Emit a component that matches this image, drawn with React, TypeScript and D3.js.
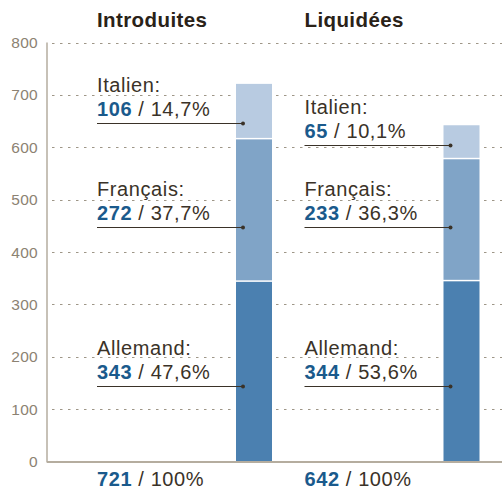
import React from "react";
import * as d3 from "d3";

const panels = ["Introduites", "Liquidées"];
const languages = ["Allemand", "Français", "Italien"];
const countsIntroduites = [343, 272, 106];
const countsLiquidees = [344, 233, 65];
const pctIntroduites = ["47,6%", "37,7%", "14,7%"];
const pctLiquidees = ["53,6%", "36,3%", "10,1%"];
const labelAnchorIntroduites = [145, 447, 647];
const labelAnchorLiquidees = [145, 447, 604];
const totals = [721, 642];
const yTicks = [0, 100, 200, 300, 400, 500, 600, 700, 800];

const W = 502;
const H = 492;
const COLORS = ["#4b80b0", "#80a4c7", "#b8cbe1"];
const BLUE = "#1a5a8c";
const TEXT = "#3a3228";
const AXIS = "#b5ad9f";
const TICK = "#8c8272";
const FONT = "'Liberation Sans', Arial, Helvetica, sans-serif";

export default function App() {
  const y = d3.scaleLinear().domain([0, 800]).range([461.5, 42.5]);
  const x = d3.scaleBand().domain(panels).range([48, 48 + 2 * 207.5]);
  const axisX = 47;
  const barOffset = 188;
  const labelOffset = 49;
  const barW = 36;

  const series = [
    { counts: countsIntroduites, pcts: pctIntroduites, anchors: labelAnchorIntroduites },
    { counts: countsLiquidees, pcts: pctLiquidees, anchors: labelAnchorLiquidees },
  ];
  const stacks = series.map((s) => {
    let acc = 0;
    return s.counts.map((c) => {
      const y0 = acc;
      acc += c;
      return [y0, acc];
    });
  });

  return (
    <svg
      width={W}
      height={H}
      style={{ position: "absolute", left: 0, top: 0, background: "#fff" }}
      fontFamily={FONT}
    >
      {yTicks.slice(1).map((t) => (
        <line
          key={t}
          x1={axisX + 5}
          x2={W}
          y1={Math.round(y(t)) + 0.5}
          y2={Math.round(y(t)) + 0.5}
          stroke="#9e9687"
          strokeWidth={1.2}
          strokeDasharray="2.5,5.5"
        />
      ))}
      {yTicks.map((t) => (
        <text
          key={t}
          x={38}
          y={y(t)}
          dy="0.36em"
          textAnchor="end"
          fontSize={15.5}
          letterSpacing={0.3}
          fill={TICK}
        >
          {t}
        </text>
      ))}
      {panels.map((p, i) => {
        const bx = (x(p) as number) + barOffset;
        const lx = (x(p) as number) + labelOffset;
        const st = stacks[i];
        const s = series[i];
        const top = st[st.length - 1][1];
        return (
          <g key={p}>
            <text x={lx} y={27} fontSize={20.5} fontWeight="bold" letterSpacing={0.4} fill="#2a2218">
              {p}
            </text>
            <rect
              x={bx - 4}
              y={y(top) - 2}
              width={barW + 8}
              height={y(0) - y(top) + 2}
              fill="#fff"
            />
            {st.map(([a, b], k) => (
              <rect
                key={k}
                x={bx}
                y={y(b)}
                width={barW}
                height={y(a) - y(b) - (k > 0 ? 1.5 : 0)}
                fill={COLORS[k]}
              />
            ))}
            {languages.map((lang, k) => {
              const ly = Math.round(y(s.anchors[k])) + 0.5;
              return (
                <g key={lang}>
                  <text x={lx} y={ly - 32} fontSize={20} letterSpacing={0.6} fill={TEXT} fontWeight={300}>
                    {lang}:
                  </text>
                  <text x={lx} y={ly - 8} fontSize={20} letterSpacing={0.6} fill={TEXT}>
                    <tspan fontWeight="bold" fill={BLUE}>
                      {s.counts[k]}
                    </tspan>
                    <tspan fontWeight={300}>{` / ${s.pcts[k]}`}</tspan>
                  </text>
                  <line x1={lx} x2={bx + 7} y1={ly} y2={ly} stroke={TEXT} strokeWidth={1.2} />
                  <circle cx={bx + 7} cy={ly} r={2} fill={TEXT} />
                </g>
              );
            })}
            <text x={lx} y={486} fontSize={20} letterSpacing={0.6} fill={TEXT}>
              <tspan fontWeight="bold" fill={BLUE}>
                {totals[i]}
              </tspan>
              <tspan fontWeight={300}>{" / 100%"}</tspan>
            </text>
          </g>
        );
      })}
      <line x1={axisX} x2={axisX} y1={y(800)} y2={y(0) + 1} stroke={AXIS} strokeWidth={1.5} />
      <line x1={axisX} x2={W} y1={y(0) + 0.5} y2={y(0) + 0.5} stroke={AXIS} strokeWidth={2} />
    </svg>
  );
}
